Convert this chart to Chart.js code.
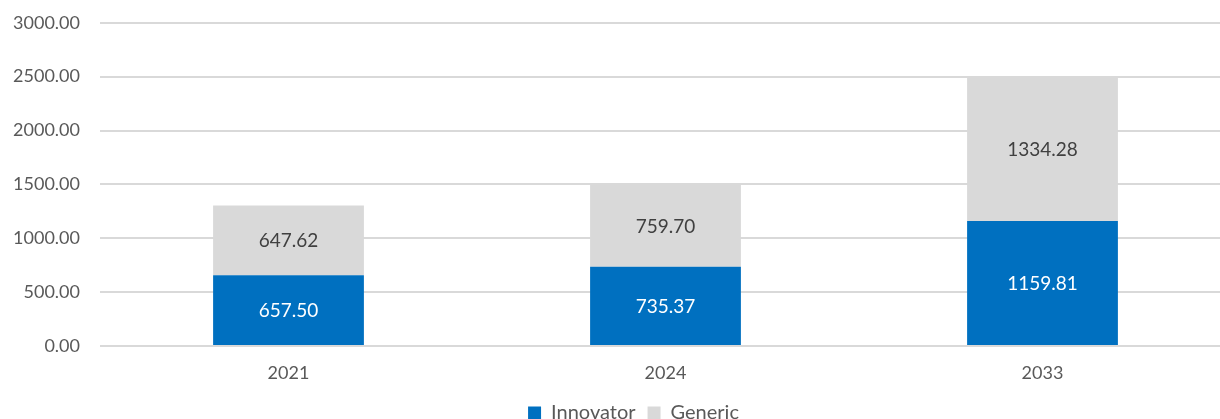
<!DOCTYPE html>
<html>
<head>
<meta charset="utf-8">
<script src="https://cdn.jsdelivr.net/npm/chart.js@4/dist/chart.umd.min.js"></script>
<style>
  html, body { margin: 0; padding: 0; background: #ffffff; overflow: hidden; }
  #wrap { position: relative; width: 1231px; height: 441px; margin-top: -8px; }
</style>
</head>
<body>
<div id="wrap"><canvas id="grafico"></canvas></div>
<script>
var anos = ['2021', '2024', '2033'];
var innovator = [657.50, 735.37, 1159.81];
var generic = [647.62, 759.70, 1334.28];
var eixoMax = 3000;
var eixoPasso = 500;

// escreve o valor no meio de cada segmento da barra
var rotulosBarras = {
    id: 'rotulosBarras',
    afterDatasetsDraw: function(chart) {
        var ctx = chart.ctx;
        ctx.save();
        ctx.font = '19px Lato';
        ctx.textAlign = 'center';
        ctx.textBaseline = 'middle';
        chart.data.datasets.forEach(function(ds, i) {
            var meta = chart.getDatasetMeta(i);
            meta.data.forEach(function(bar, j) {
                var p = bar.getProps(['x', 'y', 'base'], true);
                ctx.fillStyle = ds.corRotulo;
                ctx.fillText(ds.data[j].toFixed(2), p.x, (p.y + p.base) / 2 + 1);
            });
        });
        ctx.restore();
    }
};

// legenda um pouco para a direita, centrada sob a area do grafico
var deslocaLegenda = {
    id: 'deslocaLegenda',
    afterLayout: function(chart) {
        if (chart.legend) {
            chart.legend.left += 18;
            chart.legend.right += 18;
        }
    }
};

var ctx = document.getElementById('grafico').getContext('2d');
var grafico = new Chart(ctx, {
    type: 'bar',
    data: {
        labels: anos,
        datasets: [{
            label: 'Innovator',
            data: innovator,
            backgroundColor: '#0070C0',
            corRotulo: '#ffffff'
        }, {
            label: 'Generic',
            data: generic,
            backgroundColor: '#D9D9D9',
            corRotulo: '#404040'
        }]
    },
    options: {
        responsive: true,
        maintainAspectRatio: false,
        animation: false,
        layout: { padding: 0 },
        datasets: {
            bar: { barPercentage: 0.4, categoryPercentage: 1.0 }
        },
        plugins: {
            legend: {
                position: 'bottom',
                labels: {
                    color: '#595959',
                    font: { family: 'Lato', size: 20 },
                    boxWidth: 13,
                    boxHeight: 13,
                    padding: 12
                }
            },
            tooltip: { enabled: false }
        },
        scales: {
            x: {
                stacked: true,
                grid: { display: false },
                border: { display: false },
                ticks: { color: '#595959', font: { family: 'Lato', size: 18 }, padding: 8 },
                afterFit: function(scale) { scale.height = 45; }
            },
            y: {
                stacked: true,
                min: 0,
                max: eixoMax,
                grid: { color: '#D9D9D9', lineWidth: 2, drawTicks: false },
                border: { display: false },
                ticks: {
                    stepSize: eixoPasso,
                    color: '#595959',
                    font: { family: 'Lato', size: 18 },
                    padding: 20,
                    callback: function(v) { return v.toFixed(2); }
                },
                afterFit: function(scale) { scale.width = 100; }
            }
        }
    },
    plugins: [rotulosBarras, deslocaLegenda]
});
</script>
</body>
</html>
